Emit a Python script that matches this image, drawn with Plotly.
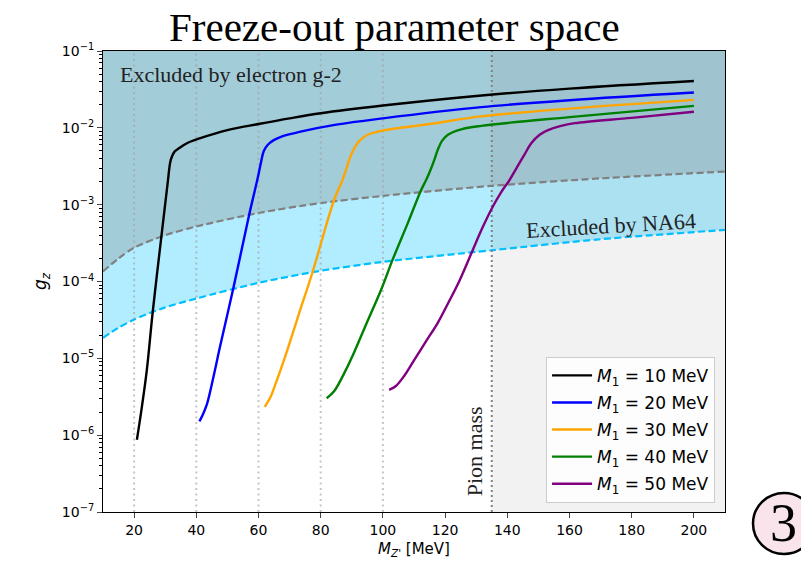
import plotly.graph_objects as go

# ---------------- data ----------------
m1_labels = ["10", "20", "30", "40", "50"]
curve_colors = ["#000000", "#0000ff", "#ffa500", "#008000", "#800080"]

mz_m1_10 = [20.9, 22.5, 24.1, 26.0, 28.7, 30.9, 31.6, 32.2, 33.0, 34.3, 37.0, 41.3, 50, 60, 70, 80, 100, 130, 160, 200]
gz_m1_10 = [8.71e-7, 2.34e-6, 7.08e-6, 4.07e-5, 3.63e-4, 2.09e-3, 3.55e-3, 4.27e-3, 4.90e-3, 5.37e-3, 6.31e-3,
            7.33e-3, 9.33e-3, 1.12e-2, 1.33e-2, 1.55e-2, 1.95e-2, 2.60e-2, 3.24e-2, 4.07e-2]

mz_m1_20 = [41.0, 42.0, 43.4, 45.9, 47.4, 52.0, 57.0, 59.6, 60.8, 61.7, 63.0, 64.9, 67.0, 73.5, 85, 100, 131.6, 160, 200]
gz_m1_20 = [1.51e-6, 1.82e-6, 2.51e-6, 6.76e-6, 1.29e-5, 8.51e-5, 7.41e-4, 2.09e-3, 3.55e-3, 5.01e-3, 6.03e-3,
            6.92e-3, 7.59e-3, 8.91e-3, 1.10e-2, 1.33e-2, 1.86e-2, 2.29e-2, 2.88e-2]

mz_m1_30 = [62.0, 63.9, 65.5, 67.1, 69.3, 73.0, 77.3, 84.3, 87.0, 88.5, 90.0, 91.8, 93.5, 95.1, 99.4, 115, 131.6, 160, 200]
gz_m1_30 = [2.34e-6, 3.16e-6, 4.68e-6, 7.08e-6, 1.29e-5, 3.80e-5, 1.29e-4, 1.15e-3, 2.09e-3, 3.16e-3, 4.68e-3,
            6.31e-3, 7.41e-3, 8.13e-3, 9.12e-3, 1.12e-2, 1.41e-2, 1.78e-2, 2.31e-2]

mz_m1_40 = [81.9, 84.3, 88.1, 91.1, 95.0, 99.4, 103.1, 108.0, 112.3, 113.9, 115.3, 116.5, 117.6, 119.0, 120.9, 125.2, 131.6, 160, 200]
gz_m1_40 = [3.02e-6, 3.72e-6, 7.08e-6, 1.29e-5, 3.02e-5, 7.76e-5, 1.91e-4, 5.75e-4, 1.55e-3, 2.09e-3, 2.82e-3,
            3.80e-3, 5.13e-3, 6.76e-3, 8.13e-3, 9.55e-3, 1.06e-2, 1.38e-2, 1.93e-2]

mz_m1_50 = [102.0, 104.2, 107.0, 110.1, 114.0, 117.6, 121.0, 124.5, 128.9, 132.0, 135.4, 138.0, 140.7, 143.0, 145.5,
            147.7, 150.4, 153.1, 157.0, 161.7, 180, 200]
gz_m1_50 = [3.89e-6, 4.37e-6, 6.03e-6, 9.55e-6, 1.70e-5, 2.88e-5, 5.25e-5, 1.00e-4, 2.57e-4, 5.00e-4, 9.55e-4,
            1.45e-3, 2.09e-3, 3.02e-3, 4.47e-3, 6.31e-3, 8.13e-3, 9.33e-3, 1.05e-2, 1.15e-2, 1.35e-2, 1.62e-2]

# electron g-2 exclusion boundary
g2_mz = [10, 15, 20, 30, 40, 60, 80, 100, 135, 170, 210]
g2_gz = [1.35e-4, 2.0e-4, 2.75e-4, 4.0e-4, 5.2e-4, 7.8e-4, 1.05e-3, 1.3e-3, 1.76e-3, 2.2e-3, 2.7e-3]

# NA64 exclusion boundary
na64_mz = [10, 15, 20, 30, 40, 60, 80, 100, 135, 170, 210]
na64_gz = [1.85e-5, 2.5e-5, 3.2e-5, 4.6e-5, 6.0e-5, 9.6e-5, 1.38e-4, 1.8e-4, 2.55e-4, 3.55e-4, 4.7e-4]

threshold_mz = [20, 40, 60, 80, 100]
pion_mass = 135

x_range = [10, 210]
y_min, y_max = 1e-7, 1e-1
x_ticks = [20, 40, 60, 80, 100, 120, 140, 160, 180, 200]
y_tick_vals = [1e-7, 1e-6, 1e-5, 1e-4, 1e-3, 1e-2, 1e-1]
y_tick_text = ["10<sup>−7</sup>", "10<sup>−6</sup>", "10<sup>−5</sup>", "10<sup>−4</sup>",
               "10<sup>−3</sup>", "10<sup>−2</sup>", "10<sup>−1</sup>"]
y_minor_vals = [m * 10.0 ** e for e in range(-7, -1) for m in range(2, 10)]

curves_x = [mz_m1_10, mz_m1_20, mz_m1_30, mz_m1_40, mz_m1_50]
curves_y = [gz_m1_10, gz_m1_20, gz_m1_30, gz_m1_40, gz_m1_50]

SERIF = "Liberation Serif, Times New Roman, serif"
SANS = "DejaVu Sans, sans-serif"

fig = go.Figure()

# NA64 excluded region (up to top)
fig.add_trace(go.Scatter(
    x=na64_mz + [x_range[1], x_range[0]], y=na64_gz + [y_max, y_max],
    fill="toself", fillcolor="rgba(0,191,255,0.3)", mode="none",
    showlegend=False, hoverinfo="skip"))
# electron g-2 excluded region
fig.add_trace(go.Scatter(
    x=g2_mz + [x_range[1], x_range[0]], y=g2_gz + [y_max, y_max],
    fill="toself", fillcolor="rgba(128,128,128,0.3)", mode="none",
    showlegend=False, hoverinfo="skip"))
# above pion mass region
fig.add_trace(go.Scatter(
    x=[pion_mass, x_range[1], x_range[1], pion_mass], y=[y_min, y_min, y_max, y_max],
    fill="toself", fillcolor="rgba(128,128,128,0.1)", mode="none",
    showlegend=False, hoverinfo="skip"))

# boundary lines
fig.add_trace(go.Scatter(x=g2_mz, y=g2_gz, mode="lines",
                         line=dict(color="#808080", width=2.2, dash="7px,3.5px", shape="spline", smoothing=0.8),
                         showlegend=False, hoverinfo="skip"))
fig.add_trace(go.Scatter(x=na64_mz, y=na64_gz, mode="lines",
                         line=dict(color="#00bfff", width=2.2, dash="7px,3.5px", shape="spline", smoothing=0.8),
                         showlegend=False, hoverinfo="skip"))

# threshold dotted lines
for xv in threshold_mz:
    fig.add_trace(go.Scatter(x=[xv, xv], y=[y_min, y_max], mode="lines",
                             line=dict(color="rgba(160,160,160,0.6)", width=2, dash="2px,3.5px"),
                             showlegend=False, hoverinfo="skip"))
fig.add_trace(go.Scatter(x=[pion_mass, pion_mass], y=[y_min, y_max], mode="lines",
                         line=dict(color="#808080", width=2, dash="2px,3px"),
                         showlegend=False, hoverinfo="skip"))

# freeze-out curves
for i, (lab, col, xs, ys) in enumerate(zip(m1_labels, curve_colors, curves_x, curves_y)):
    fig.add_trace(go.Scatter(x=xs, y=ys, mode="lines",
                             line=dict(color=col, width=2.4, shape="spline", smoothing=1.0),
                             legendgroup="g%d" % i,
                             name="<i>M</i><sub>1</sub> = " + lab + " MeV"))

L, R, T, B = 103, 76, 51, 53

fig.update_layout(
    width=801, height=565,
    margin=dict(l=L, r=R, t=T, b=B),
    paper_bgcolor="white", plot_bgcolor="white",
    font=dict(family=SANS, size=14, color="black"),
    xaxis=dict(range=x_range, tickvals=x_ticks, ticks="outside", ticklen=5, tickwidth=1.1,
               showline=True, linecolor="black", linewidth=1.1, mirror=True,
               showgrid=False, zeroline=False,
               tickfont=dict(family=SANS, size=14),
               title=dict(text="<i>M</i><sub><i>Z'</i></sub> [MeV]", font=dict(family=SANS, size=15), standoff=6)),
    yaxis=dict(type="log", range=[-7, -1], tickmode="array", tickvals=y_tick_vals, ticktext=y_tick_text,
               ticks="outside", ticklen=5, tickwidth=1.1,
               minor=dict(tickmode="array", tickvals=y_minor_vals, ticks="outside", ticklen=2.8,
                          tickwidth=0.8, tickcolor="black", showgrid=False),
               showline=True, linecolor="black", linewidth=1.1, mirror=True,
               showgrid=False, zeroline=False,
               tickfont=dict(family=SANS, size=14),
               title=dict(text="<i>g</i><sub><i>z</i></sub>", font=dict(family=SANS, size=17), standoff=10)),
    legend=dict(x=0.984, y=0.02, xanchor="right", yanchor="bottom",
                bgcolor="rgba(255,255,255,0.8)", bordercolor="#cccccc", borderwidth=1,
                font=dict(family=SANS, size=17), itemwidth=40, tracegroupgap=2),
    showlegend=True,
)

annotations = [
    dict(text="Freeze-out parameter space", xref="paper", yref="paper",
         x=(394 - L) / 622, y=(512 - 27) / 461, xanchor="center", yanchor="middle",
         showarrow=False, font=dict(family=SERIF, size=41, color="black")),
    dict(text="Excluded by electron g-2", xref="x", yref="y", x=14.8, y=-1.30,
         xanchor="left", yanchor="middle", showarrow=False,
         font=dict(family=SERIF, size=22, color="#222222")),
    dict(text="Excluded by NA64", xref="x", yref="y", x=173.4, y=-3.276,
         xanchor="center", yanchor="middle", textangle=-3.3, showarrow=False,
         font=dict(family=SERIF, size=22, color="#222222")),
    dict(text="Pion mass", xref="x", yref="y", x=129.3, y=-6.21,
         xanchor="center", yanchor="middle", textangle=-90, showarrow=False,
         font=dict(family=SERIF, size=22, color="#222222")),
    dict(text="3", xref="paper", yref="paper", x=(783 - L) / 622, y=(512 - 523) / 461,
         xanchor="center", yanchor="middle", showarrow=False,
         font=dict(family=SERIF, size=54, color="black")),
]
fig.update_layout(annotations=annotations)

fig.add_shape(type="circle", xref="paper", yref="paper",
              x0=(753 - L) / 622, x1=(815 - L) / 622,
              y0=(512 - 554) / 461, y1=(512 - 493) / 461,
              fillcolor="#f8e4ea", line=dict(color="black", width=2.5), layer="below")

fig.write_html("out.html", config={"displayModeBar": False},
               post_script="document.body.style.margin='0px';")
